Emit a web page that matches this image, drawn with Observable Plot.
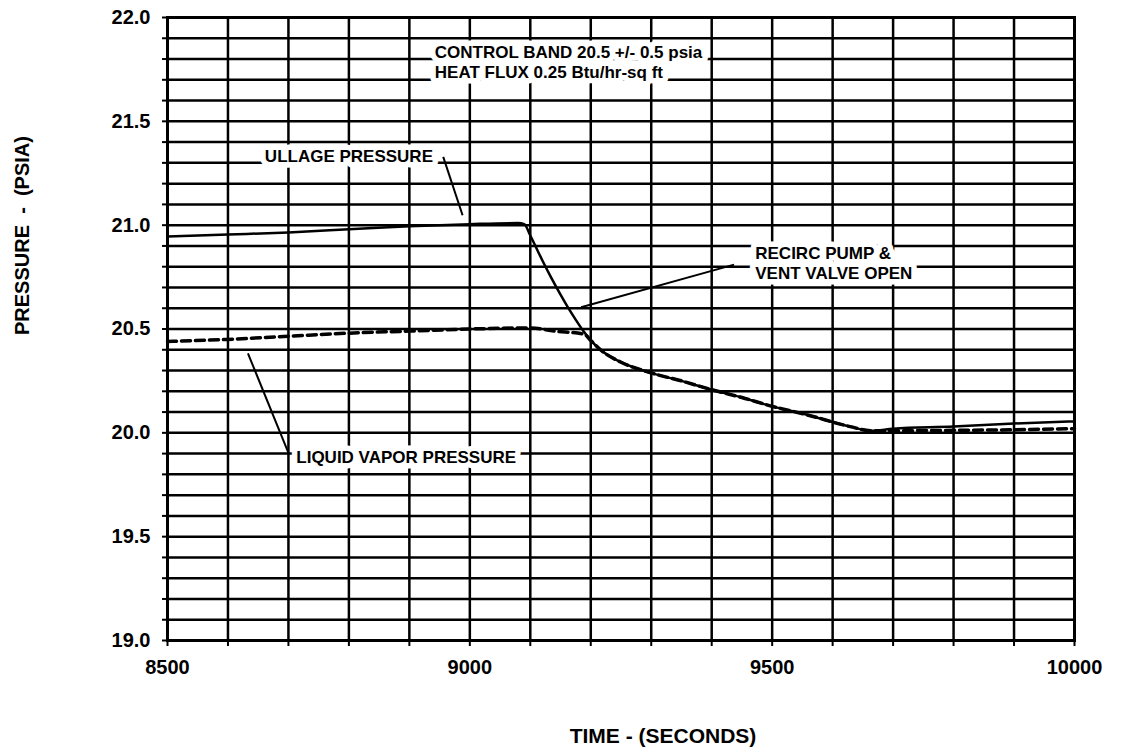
<!DOCTYPE html>
<html>
<head>
<meta charset="utf-8">
<script src="https://cdn.jsdelivr.net/npm/d3@7"></script>
<script src="https://cdn.jsdelivr.net/npm/@observablehq/plot@0.6"></script>
<style>
  body { margin: 0; background: #fff; }
  #chart svg { display: block; }
</style>
</head>
<body>
<div id="chart"></div>
<script>
// ---- Data ----
const ullageTime = [8500, 8600, 8700, 8800, 8900, 9000, 9080, 9090, 9100, 9110, 9120, 9135, 9150, 9162, 9175, 9189, 9200, 9216, 9250, 9298, 9350, 9397, 9450, 9497, 9560, 9629, 9664, 9700, 9800, 9900, 10000];
const ullagePressure = [20.945, 20.955, 20.965, 20.98, 20.995, 21.005, 21.01, 21.005, 20.95, 20.89, 20.83, 20.745, 20.665, 20.605, 20.545, 20.485, 20.445, 20.40, 20.34, 20.29, 20.25, 20.21, 20.17, 20.13, 20.085, 20.03, 20.01, 20.02, 20.03, 20.045, 20.055];

const vaporTime = [8500, 8600, 8700, 8800, 8900, 9000, 9100, 9140, 9189, 9200, 9216, 9250, 9298, 9350, 9397, 9450, 9497, 9560, 9629, 9664, 9800, 9900, 10000];
const vaporPressure = [20.44, 20.45, 20.465, 20.48, 20.49, 20.50, 20.505, 20.49, 20.475, 20.445, 20.40, 20.34, 20.29, 20.25, 20.21, 20.17, 20.13, 20.085, 20.03, 20.01, 20.012, 20.015, 20.02];

const xTickLabels = [8500, 9000, 9500, 10000];
const yTickLabels = [19.0, 19.5, 20.0, 20.5, 21.0, 21.5, 22.0];
const xGridValues = [8500, 8600, 8700, 8800, 8900, 9000, 9100, 9200, 9300, 9400, 9500, 9600, 9700, 9800, 9900, 10000];
const yGridValues = [19.0, 19.1, 19.2, 19.3, 19.4, 19.5, 19.6, 19.7, 19.8, 19.9, 20.0, 20.1, 20.2, 20.3, 20.4, 20.5, 20.6, 20.7, 20.8, 20.9, 21.0, 21.1, 21.2, 21.3, 21.4, 21.5, 21.6, 21.7, 21.8, 21.9, 22.0];

const noteText = ["CONTROL BAND 20.5 +/- 0.5 psia\nHEAT FLUX 0.25 Btu/hr-sq ft", "ULLAGE PRESSURE", "LIQUID VAPOR PRESSURE", "RECIRC PUMP &\nVENT VALVE OPEN"];
const noteTime = [8942, 8661, 8713, 9472];
const notePressure = [21.79, 21.333, 19.888, 20.819];

const leaderTime1 = [8956, 8633, 9437];
const leaderPressure1 = [21.329, 20.383, 20.81];
const leaderTime2 = [8988, 8700, 9184];
const leaderPressure2 = [21.048, 19.903, 20.605];

const xTitle = "TIME - (SECONDS)";
const yTitle = "PRESSURE\u00a0\u00a0-\u00a0\u00a0(PSIA)";

// ---- Build tables ----
const ullage = ullageTime.map((t, i) => ({t, p: ullagePressure[i]}));
const vapor = vaporTime.map((t, i) => ({t, p: vaporPressure[i]}));
const notes = noteText.map((text, i) => ({text, t: noteTime[i], p: notePressure[i]}));
const leaders = leaderTime1.map((t1, i) => ({t1, p1: leaderPressure1[i], t2: leaderTime2[i], p2: leaderPressure2[i]}));

const chart = Plot.plot({
  width: 1124,
  height: 754,
  marginLeft: 167,
  marginRight: 50,
  marginTop: 17,
  marginBottom: 114,
  style: {fontFamily: "'Liberation Sans', Arial, Helvetica, sans-serif", fontWeight: "bold", color: "black", background: "white"},
  x: {domain: [8500, 10000], axis: null},
  y: {domain: [19, 22], axis: null},
  marks: [
    Plot.ruleX(xGridValues, {stroke: "black", strokeWidth: 2.5}),
    Plot.ruleY(yGridValues, {stroke: "black", strokeWidth: 2.5}),
    // white halo around the annotation text breaking the grid
    Plot.text(notes, {x: "t", y: "p", text: "text", textAnchor: "start", fontSize: 17, lineHeight: 1.18, fill: "white", stroke: "white", strokeWidth: 11}),
    Plot.line(ullage, {x: "t", y: "p", stroke: "black", strokeWidth: 2.5, curve: "monotone-x"}),
    Plot.line(vapor, {x: "t", y: "p", stroke: "black", strokeWidth: 3.5, strokeDasharray: "9,5", curve: "monotone-x"}),
    Plot.link(leaders, {x1: "t1", y1: "p1", x2: "t2", y2: "p2", stroke: "black", strokeWidth: 2}),
    Plot.text(notes, {x: "t", y: "p", text: "text", textAnchor: "start", fontSize: 17, lineHeight: 1.18, fill: "black"}),
    Plot.frame({stroke: "black", strokeWidth: 3}),
    Plot.axisX(xGridValues, {tickSize: 6, tickFormat: () => "", strokeWidth: 2}),
    Plot.axisX(xTickLabels, {tickSize: 0, tickPadding: 19, tickFormat: d => String(d), fontSize: 20, fontWeight: "bold", letterSpacing: 2}),
    Plot.axisY(yGridValues, {tickSize: 5, tickFormat: () => "", strokeWidth: 2}),
    Plot.axisY(yTickLabels, {tickSize: 0, tickPadding: 17, tickFormat: d => d.toFixed(1), fontSize: 20, fontWeight: "bold"}),
    Plot.text([yTitle], {frameAnchor: "left", rotate: -90, dx: -145, dy: 6, fontSize: 20, fontWeight: "bold", fill: "black"}),
    Plot.text([xTitle], {frameAnchor: "bottom", dx: 42, dy: 102, fontSize: 21, fontWeight: "bold", fill: "black"})
  ]
});

document.getElementById("chart").appendChild(chart);
</script>
</body>
</html>
